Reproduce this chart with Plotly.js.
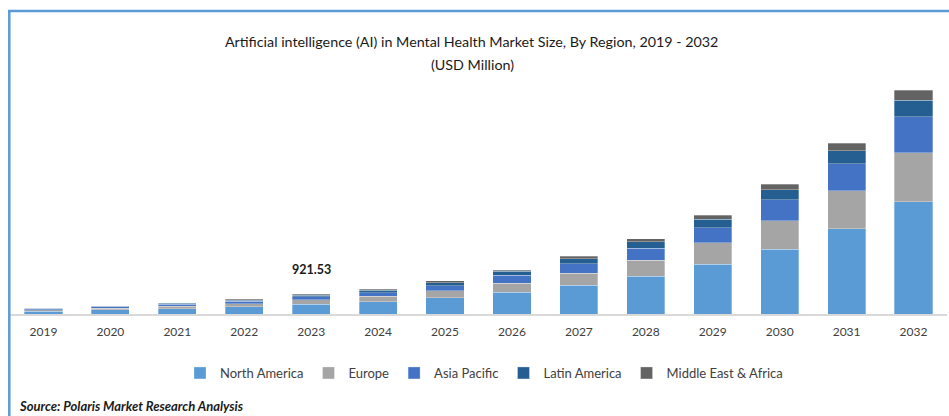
<!DOCTYPE html>
<html>
<head>
<meta charset="utf-8">
<script src="https://cdn.plot.ly/plotly-3.0.1.min.js"></script>
<style>
  html, body { margin: 0; padding: 0; background: #ffffff; }
  #chart { width: 949px; height: 416px; }
</style>
</head>
<body>
<div id="chart"></div>
<script>
// Years (categories)
const years = ["2019","2020","2021","2022","2023","2024","2025","2026","2027","2028","2029","2030","2031","2032"];

// Series values (USD Million)
const northAmerica = [135, 186, 253, 329, 447.2, 560, 745, 996, 1318, 1733, 2287, 2997, 3946, 5191];
const europe       = [60, 83, 113, 147, 200.5, 251, 334, 433, 572, 756, 1000, 1305, 1738, 2259];
const asiaPacific  = [42, 58, 80, 104, 141.3, 177, 236, 350, 429, 553, 705, 968, 1259, 1646];
const latinAmerica = [25, 34, 46, 60, 81.6, 102, 136, 184, 231, 290, 387, 461, 585, 770];
const middleEast   = [15, 22, 29, 38, 50.93, 63, 84, 65, 106, 138, 184, 263, 355, 461];

const seriesNames = ["North America", "Europe", "Asia Pacific", "Latin America", "Middle East & Africa"];
const seriesValues = [northAmerica, europe, asiaPacific, latinAmerica, middleEast];
const seriesColors = ["#5B9BD5", "#A5A5A5", "#4472C4", "#255E91", "#636363"];

// Titles and labels
const titleText = "Artificial intelligence (AI) in Mental Health Market Size, By Region, 2019 - 2032";
const subtitleText = "(USD Million)";
const sourceText = "Source: Polaris Market Research Analysis";
const labelYear = "2023";
const labelText = "921.53";

const FONT = "Lato, 'Open Sans', sans-serif";

const traces = seriesNames.map((name, i) => ({
  type: "bar",
  name: name,
  x: years,
  y: seriesValues[i],
  marker: { color: seriesColors[i], line: { color: "rgba(255,255,255,0.6)", width: 0.5 } },
  hoverinfo: "x+y+name"
}));

const labelIdx = years.indexOf(labelYear);
const labelTotal = seriesValues.reduce((s, arr) => s + arr[labelIdx], 0);

// geometry helpers (paper coords)
const W = 949, H = 416, ML = 10, MR = 2, MT = 80, MB = 102;
const PW = W - ML - MR, PH = H - MT - MB;
const px2x = p => (p - ML) / PW;
const py2y = p => (H - MB - p) / PH;

const layout = {
  width: W,
  height: H,
  margin: { l: ML, r: MR, t: MT, b: MB, pad: 0 },
  paper_bgcolor: "#ffffff",
  plot_bgcolor: "#ffffff",
  barmode: "stack",
  bargap: 0.43,
  font: { family: FONT, color: "#404040", size: 12 },
  title: {
    text: titleText,
    font: { family: FONT, size: 14.3, color: "#1a1a1a" },
    x: 0.497, xanchor: "center",
    y: 1 - 42 / H, yanchor: "middle"
  },
  xaxis: {
    type: "category",
    range: [-0.5, years.length - 0.5],
    showline: true, linecolor: "#D9D9D9", linewidth: 1.5,
    showgrid: false, zeroline: false,
    ticks: "", ticklabelstandoff: 6,
    tickfont: { family: FONT, size: 12, color: "#404040" },
    fixedrange: true
  },
  yaxis: {
    range: [0, 10800],
    showgrid: false, zeroline: false, showline: false,
    showticklabels: false, ticks: "",
    fixedrange: true
  },
  legend: {
    orientation: "h",
    x: px2x(484), xanchor: "center",
    y: py2y(373), yanchor: "middle",
    font: { family: FONT, size: 13, color: "#404040" },
    itemwidth: 30,
    traceorder: "normal"
  },
  annotations: [
    {
      x: px2x(472), y: py2y(64), xref: "paper", yref: "paper",
      xanchor: "center", yanchor: "middle",
      text: subtitleText, showarrow: false,
      font: { family: FONT, size: 14.3, color: "#1a1a1a" }
    },
    {
      x: labelIdx, y: labelTotal, xref: "x", yref: "y",
      text: "<b>" + labelText + "</b>",
      showarrow: false, yanchor: "bottom", yshift: 15,
      font: { family: FONT, size: 12.5, color: "#1a1a1a" }
    },
    {
      x: px2x(17), y: py2y(406), xref: "paper", yref: "paper",
      xanchor: "left", yanchor: "middle",
      text: "<b><i>" + sourceText + "</i></b>",
      showarrow: false,
      font: { family: FONT, size: 13, color: "#1a1a1a" }
    }
  ],
  shapes: [
    { type: "line", xref: "paper", yref: "paper",
      x0: px2x(8), x1: px2x(949), y0: py2y(11), y1: py2y(11),
      line: { color: "#5B9BD5", width: 2.5 } },
    { type: "line", xref: "paper", yref: "paper",
      x0: px2x(9.3), x1: px2x(9.3), y0: py2y(10), y1: py2y(416),
      line: { color: "#5B9BD5", width: 2.5 } }
  ],
  showlegend: true
};

Plotly.newPlot("chart", traces, layout, { displayModeBar: false, staticPlot: true });
</script>
</body>
</html>
